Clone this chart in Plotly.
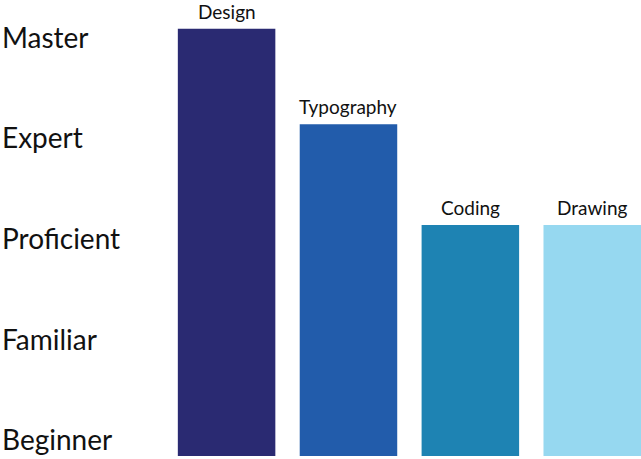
import plotly.graph_objects as go

skills = ["Design", "Typography", "Coding", "Drawing"]
skill_values = [5.08, 4.13, 3.13, 3.13]
bar_colors = ["#2a2a72", "#225cab", "#1e83b3", "#96d8f0"]

level_names = ["Beginner", "Familiar", "Proficient", "Expert", "Master"]
level_values = [1, 2, 3, 4, 5]

fig = go.Figure()
fig.add_trace(go.Bar(
    x=skills,
    y=skill_values,
    marker=dict(color=bar_colors, line=dict(width=0)),
    hoverinfo="skip",
))

annotations = []
for s, v in zip(skills, skill_values):
    annotations.append(dict(
        x=s, y=v, xref="x", yref="y", text=s, showarrow=False,
        xanchor="center", yanchor="bottom", yshift=4,
        font=dict(family="Lato", size=19, color="#111111"),
    ))
for name, v in zip(level_names, level_values):
    annotations.append(dict(
        x=0, y=v, xref="paper", yref="y", text=name, showarrow=False,
        xanchor="left", yanchor="middle", xshift=0,
        font=dict(family="Lato", size=28, color="#111111"),
    ))

fig.update_layout(
    width=641, height=459,
    margin=dict(l=0, r=0, t=0, b=3),
    paper_bgcolor="white", plot_bgcolor="white",
    bargap=0.2,
    showlegend=False,
    annotations=annotations,
    xaxis=dict(range=[-1.859, 3.40], showgrid=False, zeroline=False,
               showticklabels=False, showline=False, ticks=""),
    yaxis=dict(range=[0.833, 5.366], showgrid=False, zeroline=False,
               showticklabels=False, showline=False, ticks=""),
)

fig.write_html("out.html")
